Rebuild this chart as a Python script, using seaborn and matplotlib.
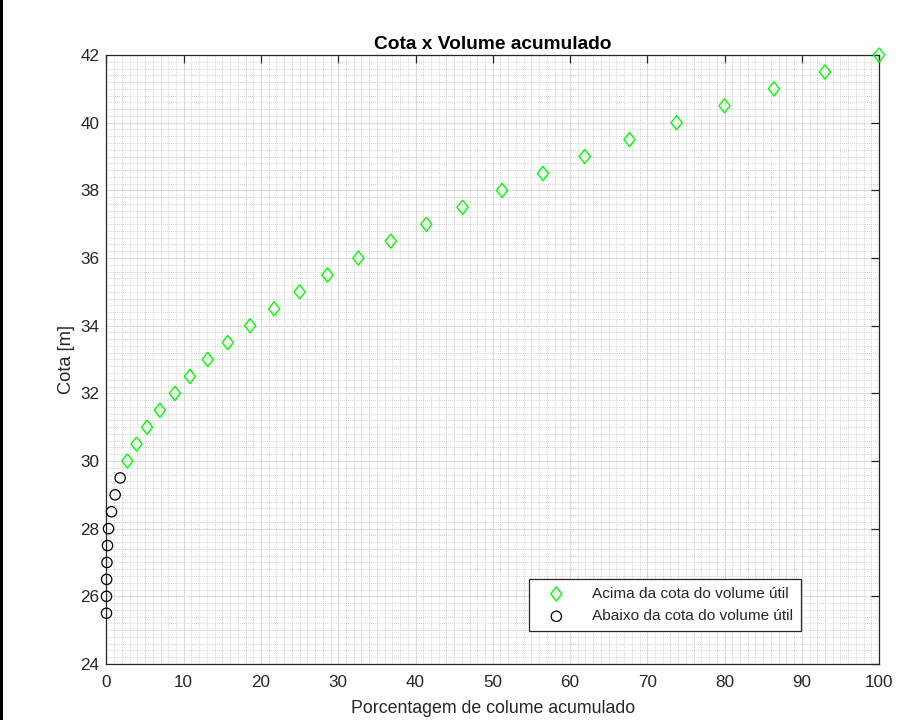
import matplotlib
matplotlib.use("Agg")
import matplotlib.pyplot as plt
import seaborn as sns
import numpy as np
from matplotlib.ticker import MultipleLocator

# Data
cota_acima = [30, 30.5, 31, 31.5, 32, 32.5, 33, 33.5, 34, 34.5, 35, 35.5, 36, 36.5,
              37, 37.5, 38, 38.5, 39, 39.5, 40, 40.5, 41, 41.5, 42]
vol_acima = [2.7, 3.9, 5.25, 6.9, 8.85, 10.8, 13.1, 15.7, 18.6, 21.7, 25.0, 28.6, 32.6, 36.8,
             41.4, 46.1, 51.2, 56.5, 61.9, 67.7, 73.8, 80.0, 86.4, 93.0, 100.0]
cota_abaixo = [25.5, 26, 26.5, 27, 27.5, 28, 28.5, 29, 29.5]
vol_abaixo = [0.0, 0.0, 0.02, 0.06, 0.13, 0.26, 0.65, 1.12, 1.77]

label_acima = "Acima da cota do volume útil"
label_abaixo = "Abaixo da cota do volume útil"

sns.set_theme(style="white")
plt.rcParams['font.family'] = ['Liberation Sans', 'DejaVu Sans']

fig = plt.figure(figsize=(9.22, 7.2), dpi=100)
ax = fig.add_axes([0.1155, 0.0778, 0.9534 - 0.1155, 0.9236 - 0.0778])

diamond = [(0, 1), (0.78, 0), (0, -1), (-0.78, 0), (0, 1)]

sns.scatterplot(x=vol_acima, y=cota_acima, ax=ax, marker=diamond, s=105,
                facecolors='none', edgecolor='#00ff00', linewidth=1.0,
                label=label_acima, zorder=5, clip_on=False)
sns.scatterplot(x=vol_abaixo, y=cota_abaixo, ax=ax, marker='o', s=55,
                facecolors='none', edgecolor='black', linewidth=0.9,
                label=label_abaixo, zorder=5, clip_on=False)

ax.set_xlim(0, 100)
ax.set_ylim(24, 42)
ax.xaxis.set_major_locator(MultipleLocator(10))
ax.yaxis.set_major_locator(MultipleLocator(2))
ax.xaxis.set_minor_locator(MultipleLocator(1))
ax.yaxis.set_minor_locator(MultipleLocator(0.2))

ax.grid(True, which='major', color='#dcdcdc', linewidth=0.8, linestyle='-')
ax.grid(True, which='minor', color='#c4c4c4', linewidth=0.6, linestyle=(0, (1, 1.5)))
ax.set_axisbelow(True)

for sp in ax.spines.values():
    sp.set_color('#262626')
    sp.set_linewidth(0.9)

ax.tick_params(which='major', direction='in', length=6, width=0.9, color='#262626',
               top=True, right=True, labelsize=12.3, labelcolor='#262626')
ax.tick_params(axis='x', which='major', pad=8)
ax.tick_params(axis='y', which='major', pad=5)
ax.tick_params(which='minor', length=0)

ax.set_xlabel("Porcentagem de colume acumulado", fontsize=12.8, color='#262626', labelpad=7)
ax.set_ylabel("Cota [m]", fontsize=13.2, color='#262626', labelpad=4)
ax.set_title("Cota x Volume acumulado", fontsize=13.8, fontweight='bold', color='black', pad=4)

leg = ax.legend(loc='lower right', bbox_to_anchor=(0.8985, 0.054), fontsize=11.1,
                frameon=True, fancybox=False, edgecolor='#262626', framealpha=1,
                handlelength=2.6, handletextpad=1.0, borderpad=0.5, labelspacing=0.55,
                borderaxespad=0.0)
leg.get_frame().set_linewidth(0.9)

# left black border strip
fig.add_artist(plt.Line2D([0.0015, 0.0015], [0, 1], color='black', linewidth=2.2,
                          transform=fig.transFigure))

fig.savefig("out.png", dpi=100)
